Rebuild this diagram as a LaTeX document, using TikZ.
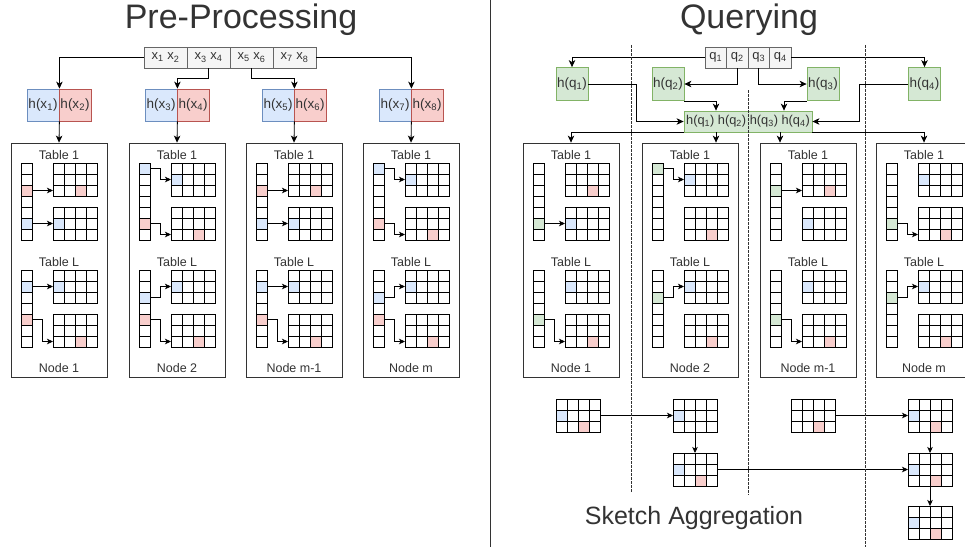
\documentclass[tikz,border=0pt]{standalone}
\usepackage{fontspec}
\setmainfont{Liberation Sans}
\usetikzlibrary{arrows.meta}

\definecolor{bluef}{HTML}{DAE8FC}
\definecolor{blued}{HTML}{6C8EBF}
\definecolor{redf}{HTML}{F8CECC}
\definecolor{redd}{HTML}{B85450}
\definecolor{greenf}{HTML}{D5E8D4}
\definecolor{greend}{HTML}{82B366}
\definecolor{stripf}{HTML}{F5F5F5}
\definecolor{stripd}{HTML}{666666}
\definecolor{ink}{HTML}{333333}

\tikzset{
  cell/.style={draw=black, line width=0.7pt, minimum size=11pt, inner sep=0pt, outer sep=0pt},
  gridbox/.style={minimum width=44pt, minimum height=33pt, inner sep=0pt, outer sep=0pt},
  nodebox/.style={draw=ink, line width=0.8pt, minimum width=96pt, minimum height=234pt, inner sep=0pt},
  lbl/.style={text=ink, font=\fontsize{12.5}{14}\selectfont, inner sep=0pt},
  strip/.style={draw=stripd, fill=stripf, text=ink, font=\fontsize{13}{15}\selectfont, minimum height=21pt, inner sep=0pt, line width=0.7pt},
  hash/.style={text=ink, font=\fontsize{13.5}{15}\selectfont, minimum width=32pt, minimum height=32pt, inner sep=0pt, line width=0.8pt},
  hblue/.style={hash, draw=blued, fill=bluef},
  hred/.style={hash, draw=redd, fill=redf},
  hgreen/.style={hash, draw=greend, fill=greenf, minimum height=33pt},
  arr/.style={-{Stealth[length=7pt,width=6.5pt,inset=2pt]}, line width=0.8pt, draw=black},
  small/.style={-{Stealth[length=6pt,width=5.5pt,inset=1.5pt]}, line width=0.7pt, draw=black},
  sep/.style={draw=ink, dash pattern=on 2.5pt off 1.5pt, line width=0.7pt},
  title/.style={text=ink, font=\fontsize{34}{40}\selectfont, inner sep=0pt}
}

% coloured cell on top of an existing one
\newcommand{\hit}[2]{\node[cell,fill=#2] (#1-on) at (#1) {};}

% 4x3 sketch grid, top left corner at (#2,#3)
\newcommand{\sgrid}[3]{%
  \node[gridbox] (#1) at (#2+22,#3+16.5) {};
  \foreach \gr in {0,1,2}
    \foreach \gc in {0,...,3}
      \node[cell] (#1-\gr\gc) at (#2+5.5+11*\gc,#3+5.5+11*\gr) {};
}

% one machine with Table 1 and Table L
\newcommand{\server}[3]{%
  \node[nodebox] (#1) at (#2+48,260) {};
  \node[lbl] (#1-t1) at (#2+48,155) {Table 1};
  \node[lbl] (#1-tl) at (#2+48,262) {Table L};
  \node[lbl] (#1-nm) at (#2+48,368) {#3};
  \foreach \i in {0,...,6} {
    \node[cell] (#1-a\i) at (#2+15.5,168.5+11*\i) {};
    \node[cell] (#1-b\i) at (#2+15.5,275.5+11*\i) {};
  }
  \sgrid{#1-p}{#2+42}{163}
  \sgrid{#1-q}{#2+42}{207}
  \sgrid{#1-r}{#2+42}{270}
  \sgrid{#1-s}{#2+42}{314}
}

\begin{document}
\begin{tikzpicture}[x=1pt,y=-1pt]
\useasboundingbox (0,0) rectangle (965,547);
\clip (0,0) rectangle (965,547);

% Titles and divider
\node[title] (pre) at (241,20) {Pre-Processing};
\node[title] (qry) at (749,20) {Querying};
\draw[ink, line width=0.8pt] (490,0) -- (490,547);

% ---------------- Pre-Processing ----------------
\node[strip, minimum width=43pt] (sx1) at (165.5,57.5) {x\textsubscript{1} x\textsubscript{2}};
\node[strip, minimum width=43pt] (sx2) at (208.5,57.5) {x\textsubscript{3} x\textsubscript{4}};
\node[strip, minimum width=43pt] (sx3) at (251.5,57.5) {x\textsubscript{5} x\textsubscript{6}};
\node[strip, minimum width=43pt] (sx4) at (294.5,57.5) {x\textsubscript{7} x\textsubscript{8}};

\node[hblue] (hb1) at (43,105) {h(x\textsubscript{1})};
\node[hred]  (hr1) at (75,105) {h(x\textsubscript{2})};
\node[hblue] (hb2) at (161,105) {h(x\textsubscript{3})};
\node[hred]  (hr2) at (193,105) {h(x\textsubscript{4})};
\node[hblue] (hb3) at (278,105) {h(x\textsubscript{5})};
\node[hred]  (hr3) at (310,105) {h(x\textsubscript{6})};
\node[hblue] (hb4) at (395,105) {h(x\textsubscript{7})};
\node[hred]  (hr4) at (427,105) {h(x\textsubscript{8})};

\draw[arr] (sx1.west) -| (hb1.north east);
\draw[arr] (sx2.south) -- ++(0,10) -| (hb2.north east);
\draw[arr] (sx3.south) -- ++(0,10) -| (hb3.north east);
\draw[arr] (sx4.east) -| (hb4.north east);

\server{L1}{11}{Node 1}
\server{L2}{129}{Node 2}
\server{L3}{246}{Node m-1}
\server{L4}{363}{Node m}

\draw[arr] (hb1.south east) -- (L1.north);
\draw[arr] (hb2.south east) -- (L2.north);
\draw[arr] (hb3.south east) -- (L3.north);
\draw[arr] (hb4.south east) -- (L4.north);

% Node 1 and Node m-1
\foreach \n in {L1,L3} {
  \hit{\n-a2}{redf} \hit{\n-p-22}{redf}
  \hit{\n-a5}{bluef} \hit{\n-q-10}{bluef}
  \hit{\n-b1}{bluef} \hit{\n-r-10}{bluef}
  \hit{\n-b4}{redf} \hit{\n-s-22}{redf}
  \draw[small] (\n-a2.east) -- (\n-p-20.west);
  \draw[small] (\n-a5.east) -- (\n-q-10.west);
  \draw[small] (\n-b1.east) -- (\n-r-10.west);
  \draw[small] (\n-b4.east) -- ++(10,0) |- (\n-s-20.west);
}
% Node 2 and Node m
\foreach \n in {L2,L4} {
  \hit{\n-a0}{bluef} \hit{\n-p-10}{bluef}
  \hit{\n-a5}{redf} \hit{\n-q-22}{redf}
  \hit{\n-b2}{bluef} \hit{\n-r-10}{bluef}
  \hit{\n-b4}{redf} \hit{\n-s-22}{redf}
  \draw[small] (\n-a0.east) -- ++(10,0) |- (\n-p-10.west);
  \draw[small] (\n-a5.east) -- ++(10,0) |- (\n-q-20.west);
  \draw[small] (\n-b2.east) -- ++(10,0) |- (\n-r-10.west);
  \draw[small] (\n-b4.east) -- ++(10,0) |- (\n-s-20.west);
}

% ---------------- Querying ----------------
\node[strip, minimum width=21.5pt] (qs1) at (715.75,57.5) {q\textsubscript{1}};
\node[strip, minimum width=21.5pt] (qs2) at (737.25,57.5) {q\textsubscript{2}};
\node[strip, minimum width=21.5pt] (qs3) at (758.75,57.5) {q\textsubscript{3}};
\node[strip, minimum width=21.5pt] (qs4) at (780.25,57.5) {q\textsubscript{4}};

\node[hgreen] (hq1) at (572,84) {h(q\textsubscript{1})};
\node[hgreen] (hq2) at (668,84) {h(q\textsubscript{2})};
\node[hgreen] (hq3) at (823,84) {h(q\textsubscript{3})};
\node[hgreen] (hq4) at (924.5,84) {h(q\textsubscript{4})};
\node[hgreen, minimum width=128pt, minimum height=21pt, font=\fontsize{12.8}{15}\selectfont] (hq) at (748,121.5)
  {h(q\textsubscript{1}) h(q\textsubscript{2}) h(q\textsubscript{3}) h(q\textsubscript{4})};

\draw[arr] (qs1.west) -| (hq1.north);
\draw[arr] (qs2.south) |- (hq2.east);
\draw[arr] (qs3.south) |- (hq3.west);
\draw[arr] (qs4.east) -| (hq4.north);

\draw[arr] (hq1.east) -- ++(48,0) |- (hq.west);
\draw[arr] (hq2.south east) -| ([xshift=-32pt]hq.north);
\draw[arr] (hq3.south west) -| ([xshift=36pt]hq.north);
\draw[arr] (hq4.west) -- ++(-49,0) |- (hq.east);

\server{R1}{523}{Node 1}
\server{R2}{642}{Node 2}
\server{R3}{760}{Node m-1}
\server{R4}{876}{Node m}

\draw[arr] (hq.south west) -| (R1.north);
\draw[arr] ([xshift=-32pt]hq.south) -- ([xshift=-32pt]hq.south |- R2.north);
\draw[arr] ([xshift=32pt]hq.south) -- ([xshift=32pt]hq.south |- R3.north);
\draw[arr] (hq.south east) -| (R4.north);

% Node 1
\hit{R1-p-22}{redf} \hit{R1-a5}{greenf} \hit{R1-q-10}{bluef}
\hit{R1-b4}{greenf} \hit{R1-r-10}{bluef} \hit{R1-s-22}{redf}
\draw[small] (R1-a5.east) -- (R1-q-10.west);
\draw[small] (R1-b4.east) -- ++(10,0) |- (R1-s-20.west);
% Node 2
\hit{R2-a0}{greenf} \hit{R2-p-10}{bluef} \hit{R2-q-22}{redf}
\hit{R2-b2}{greenf} \hit{R2-r-10}{bluef} \hit{R2-s-22}{redf}
\draw[small] (R2-a0.east) -- ++(10,0) |- (R2-p-10.west);
\draw[small] (R2-b2.east) -- ++(10,0) |- (R2-r-10.west);
% Node m-1
\hit{R3-a2}{greenf} \hit{R3-p-22}{redf} \hit{R3-q-10}{bluef}
\hit{R3-b4}{greenf} \hit{R3-r-10}{bluef} \hit{R3-s-22}{redf}
\draw[small] (R3-a2.east) -- (R3-p-20.west);
\draw[small] (R3-b4.east) -- ++(10,0) |- (R3-s-20.west);
% Node m
\hit{R4-p-10}{bluef} \hit{R4-a5}{greenf} \hit{R4-q-22}{redf}
\hit{R4-b2}{greenf} \hit{R4-r-10}{bluef} \hit{R4-s-22}{redf}
\draw[small] (R4-a5.east) -- ++(10,0) |- (R4-q-20.west);
\draw[small] (R4-b2.east) -- ++(10,0) |- (R4-r-10.west);

% Sketch aggregation
\sgrid{ag1}{556}{399} \hit{ag1-10}{bluef} \hit{ag1-22}{redf}
\sgrid{ag2}{673}{399} \hit{ag2-10}{bluef}
\sgrid{ag3}{673}{453} \hit{ag3-10}{bluef} \hit{ag3-22}{redf}
\sgrid{ag4}{791}{399} \hit{ag4-22}{redf}
\sgrid{ag5}{908}{399} \hit{ag5-10}{bluef} \hit{ag5-22}{redf}
\sgrid{ag6}{908}{453} \hit{ag6-10}{bluef} \hit{ag6-22}{redf}
\sgrid{ag7}{908}{506} \hit{ag7-10}{bluef} \hit{ag7-22}{redf}

\draw[small] (ag1.east) -- (ag2.west);
\draw[small] (ag2.south) -- (ag3.north);
\draw[small] (ag3.east) -- (ag6.west);
\draw[small] (ag4.east) -- (ag5.west);
\draw[small] (ag5.south) -- (ag6.north);
\draw[small] (ag6.south) -- (ag7.north);

\node[lbl, font=\fontsize{25}{30}\selectfont] (agg) at (694,518) {Sketch Aggregation};

% Separators between machines
\draw[sep] (631,45) -- (631,492);
\draw[sep] (748,90) -- (748,495);
\draw[sep] (865,45) -- (865,547);
\end{tikzpicture}
\end{document}
